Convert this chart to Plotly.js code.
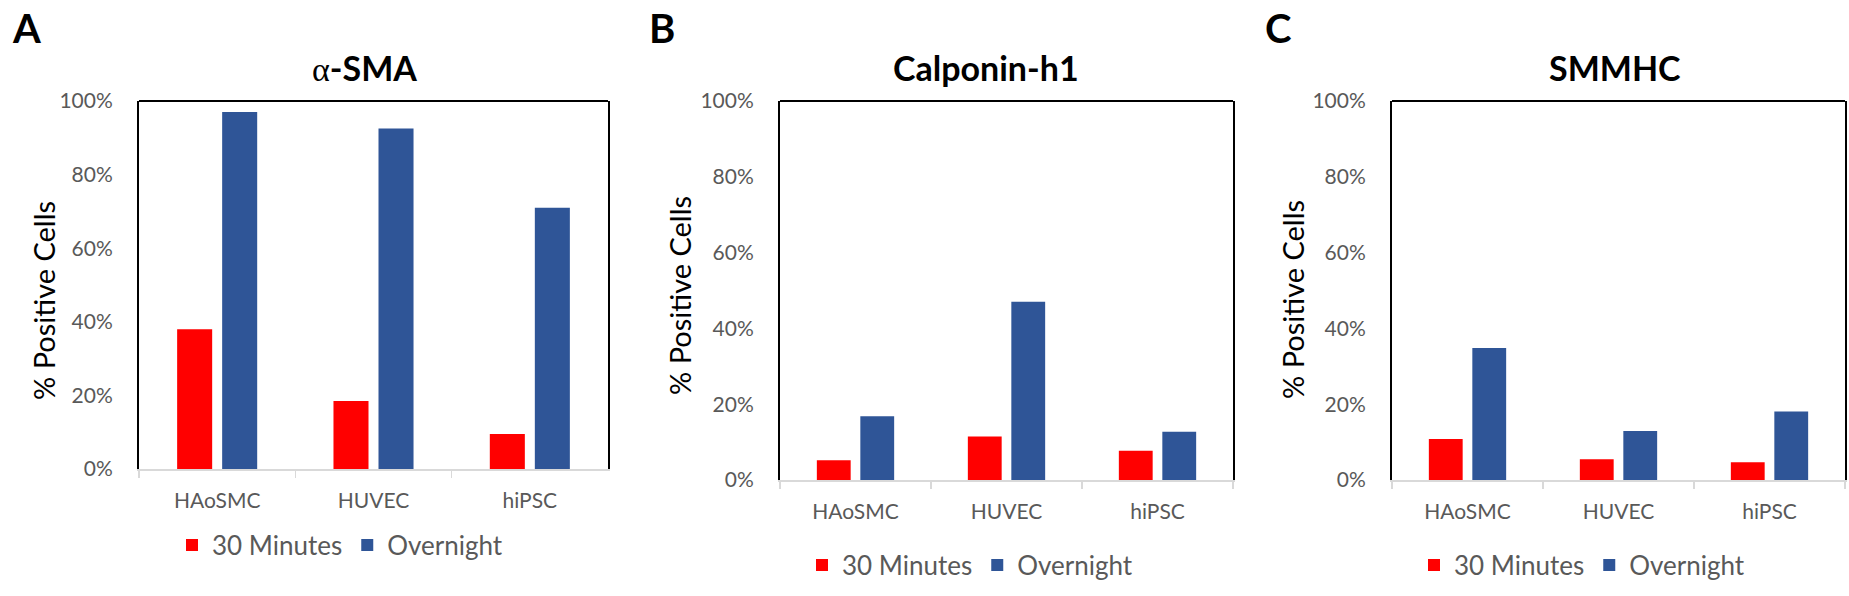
<!DOCTYPE html>
<html>
<head>
<meta charset="utf-8">
<script src="https://cdn.plot.ly/plotly-3.0.1.min.js"></script>
<style>html,body{margin:0;padding:0;background:#fff;}#chart{width:1849px;height:596px;}</style>
</head>
<body>
<div id="chart"></div>
<script>
// ---- data ----
const categories = ['HAoSMC', 'HUVEC', 'hiPSC'];
const seriesNames = ['30 Minutes', 'Overnight'];
const panelTitles = ['<span style="font-family:\'Liberation Serif\',serif;font-weight:normal">α</span>-SMA', 'Calponin-h1', 'SMMHC'];
const panelLetters = ['A', 'B', 'C'];
const yTickVals = [0, 20, 40, 60, 80, 100];
const yTickText = ['0%', '20%', '40%', '60%', '80%', '100%'];

const smaMinutes = [38, 18.5, 9.5];
const smaOvernight = [97, 92.5, 71];
const calMinutes = [5.2, 11.5, 7.7];
const calOvernight = [16.8, 47, 12.7];
const smmMinutes = [10.8, 5.5, 4.7];
const smmOvernight = [34.8, 12.9, 18.1];

// ---- styling / layout ----
const W = 1849, H = 596;
const FONT = 'Lato, "Open Sans", sans-serif';
const GRAY = '#595959';
const RED = '#FF0000', BLUE = '#2F5597';

const panels = [
  {min: smaMinutes, ovn: smaOvernight, box: [139, 608, 101, 469], title: 364, letter: 26, ytitle: [43, 301], legend: [340, 545]},
  {min: calMinutes, ovn: calOvernight, box: [780, 1233, 101, 480], title: 986, letter: 662, ytitle: [680, 296], legend: [970, 565]},
  {min: smmMinutes, ovn: smmOvernight, box: [1392, 1845, 101, 480], title: 1615, letter: 1278, ytitle: [1292, 300], legend: [1582, 565]}
];

const data = [];
const layout = {
  width: W, height: H,
  margin: {l: 0, r: 0, t: 0, b: 0},
  paper_bgcolor: '#fff', plot_bgcolor: '#fff',
  barmode: 'group', bargap: 0.424, bargroupgap: 0.222,
  showlegend: true,
  font: {family: FONT, color: GRAY},
  annotations: [], shapes: []
};

panels.forEach((p, i) => {
  const n = i === 0 ? '' : String(i + 1);
  const xa = 'x' + n, ya = 'y' + n;
  const lg = 'legend' + n;
  data.push({type: 'bar', name: seriesNames[0], x: categories, y: p.min, xaxis: xa, yaxis: ya,
             marker: {color: RED, line: {width: 0}}, legend: lg, hoverinfo: 'y'});
  data.push({type: 'bar', name: seriesNames[1], x: categories, y: p.ovn, xaxis: xa, yaxis: ya,
             marker: {color: BLUE, line: {width: 0}}, legend: lg, hoverinfo: 'y'});

  const [l, r, t, b] = p.box;
  layout['xaxis' + n] = {
    domain: [l / W, r / W], anchor: ya,
    type: 'category', showgrid: false, zeroline: false,
    showline: true, linecolor: '#D9D9D9', linewidth: 1.5,
    ticks: 'outside', tickson: 'boundaries', ticklen: 7, tickcolor: '#D9D9D9', tickwidth: 1.5,
    ticklabelstandoff: 12,
    tickfont: {family: FONT, size: 21, color: GRAY},
    fixedrange: true
  };
  layout['yaxis' + n] = {
    domain: [1 - b / H, 1 - t / H], anchor: xa,
    range: [0, 100], showgrid: false, zeroline: false,
    showline: true, mirror: true, linecolor: '#000', linewidth: 2,
    ticks: '', tickmode: 'array', tickvals: yTickVals, ticktext: yTickText,
    ticklabelstandoff: 20,
    tickfont: {family: FONT, size: 21, color: GRAY},
    fixedrange: true
  };
  layout.shapes.push({type: 'line', xref: xa + ' domain', yref: ya + ' domain',
                      x0: 0, x1: 1, y0: 1, y1: 1, line: {color: '#000', width: 2}});
  layout[lg] = {
    orientation: 'h', x: p.legend[0] / W, y: 1 - p.legend[1] / H,
    xanchor: 'center', yanchor: 'middle', xref: 'paper', yref: 'paper',
    bgcolor: 'rgba(0,0,0,0)', itemgap: 12,
    font: {family: FONT, size: 26, color: GRAY}
  };
  layout.annotations.push({
    text: '<b>' + panelTitles[i] + '</b>', xref: 'paper', yref: 'paper',
    x: p.title / W, y: 1 - 68 / H, xanchor: 'center', yanchor: 'middle', showarrow: false,
    font: {family: FONT, size: 34, color: '#000'}
  });
  layout.annotations.push({
    text: '<b>' + panelLetters[i] + '</b>', xref: 'paper', yref: 'paper',
    x: p.letter / W, y: 1 - 28 / H, xanchor: 'center', yanchor: 'middle', showarrow: false,
    font: {family: FONT, size: 40, color: '#000'}
  });
  layout.annotations.push({
    text: '% Positive Cells', xref: 'paper', yref: 'paper', textangle: -90,
    x: p.ytitle[0] / W, y: 1 - p.ytitle[1] / H, xanchor: 'center', yanchor: 'middle', showarrow: false,
    font: {family: FONT, size: 29, color: '#000'}
  });
});

Plotly.newPlot('chart', data, layout, {displayModeBar: false, staticPlot: true});
</script>
</body>
</html>
